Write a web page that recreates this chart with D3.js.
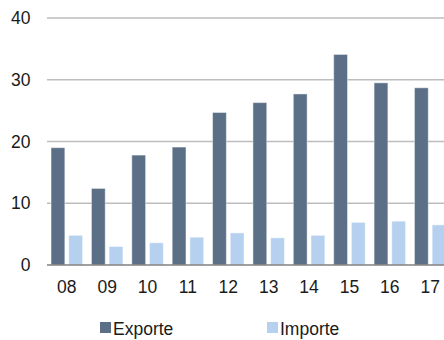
<!DOCTYPE html>
<html>
<head>
<meta charset="utf-8">
<script src="https://cdn.jsdelivr.net/npm/d3@7"></script>
<style>
  body { margin: 0; background: #fff; }
  svg text { font-family: "Liberation Sans", Arial, sans-serif; fill: #1a1a1a; }
</style>
</head>
<body>
<div id="chart"></div>
<script>
var years = ["08", "09", "10", "11", "12", "13", "14", "15", "16", "17"]
var exporte = [19.0, 12.4, 17.8, 19.1, 24.7, 26.3, 27.7, 34.1, 29.5, 28.7]
var importe = [4.8, 3.0, 3.6, 4.5, 5.2, 4.4, 4.8, 6.9, 7.1, 6.5]
var yTicks = [0, 10, 20, 30, 40]
var seriesNames = ["Exporte", "Importe"]

var width = 444,
    height = 340,
    fontSize = "17.5px",
    colors = ["#5b7087", "#b5d1ef"];

var svg = d3.select("#chart").append("svg")
    .attr("width", width)
    .attr("height", height)

var y = d3.scaleLinear()
    .domain([0, 40])
    .range([265, 18]);

// the last group runs past the right edge, like the original export
var x0 = d3.scaleBand()
    .domain(years)
    .range([47, 450])
    .paddingInner(0.22)
    .paddingOuter(0.1);

var x1 = d3.scaleBand()
    .domain(seriesNames)
    .range([0, x0.bandwidth()])
    .paddingInner(0.22);

// gridlines
svg.append("g")
    .selectAll("line")
    .data(yTicks.filter(d => d > 0))
    .enter().append("line")
    .attr("x1", 47)
    .attr("x2", width)
    .attr("y1", d => y(d))
    .attr("y2", d => y(d))
    .attr("stroke", "#bdbdbd")
    .attr("stroke-width", 1.3);

// y labels
svg.append("g")
    .selectAll("text")
    .data(yTicks)
    .enter().append("text")
    .attr("x", 30.5)
    .attr("y", d => y(d) + 6)
    .attr("text-anchor", "end")
    .style("font-size", fontSize)
    .text(d => d);

var rows = years.map((yr, i) => ({year: yr, values: [exporte[i], importe[i]]}));

var groups = svg.append("g")
    .selectAll("g")
    .data(rows)
    .enter().append("g")
    .attr("transform", d => "translate(" + x0(d.year) + ",0)");

groups.selectAll("rect")
    .data(d => d.values.map((v, j) => ({key: seriesNames[j], value: v, idx: j})))
    .enter().append("rect")
    .attr("x", d => x1(d.key))
    .attr("y", d => y(d.value))
    .attr("width", x1.bandwidth())
    .attr("height", d => y(0) - y(d.value))
    .attr("fill", d => colors[d.idx])
    .attr("stroke", "#ffffff")
    .attr("stroke-opacity", 0.45)
    .attr("stroke-width", 1);

// baseline
svg.append("line")
    .attr("x1", 47)
    .attr("x2", width)
    .attr("y1", y(0))
    .attr("y2", y(0))
    .attr("stroke", "#808080")
    .attr("stroke-width", 1.3);

// x labels
svg.append("g")
    .selectAll("text")
    .data(years)
    .enter().append("text")
    .attr("x", d => x0(d) + x0.bandwidth() / 2)
    .attr("y", 293)
    .attr("text-anchor", "middle")
    .style("font-size", fontSize)
    .text(d => d);

// legend
var legendX = [100, 267];
var legend = svg.append("g")
    .selectAll("g")
    .data(seriesNames)
    .enter().append("g")
    .attr("transform", (d, i) => "translate(" + legendX[i] + ",322)");

legend.append("rect")
    .attr("width", 11)
    .attr("height", 11)
    .attr("fill", (d, i) => colors[i]);

legend.append("text")
    .attr("x", 13)
    .attr("y", 12.5)
    .style("font-size", fontSize)
    .text(d => d);
</script>
</body>
</html>
